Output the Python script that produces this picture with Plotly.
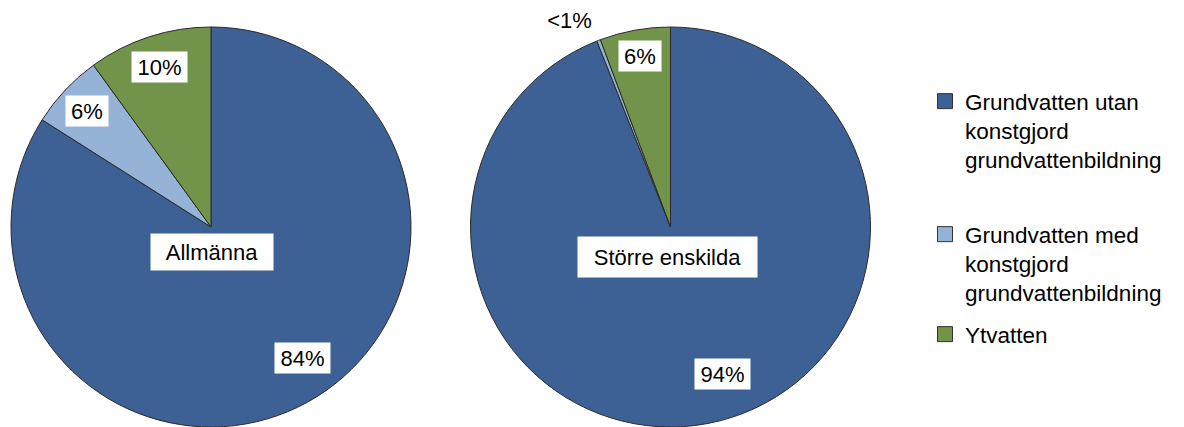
import plotly.graph_objects as go
import math

# ---- data ----
categories = [
    "Grundvatten utan<br>konstgjord<br>grundvattenbildning",
    "Grundvatten med<br>konstgjord<br>grundvattenbildning",
    "Ytvatten",
]
pie_titles = ["Allmänna", "Större enskilda"]
allmanna_values = [84.0, 6.0, 10.0]
storre_values = [94.0, 0.3, 5.7]
allmanna_labels = ["84%", "6%", "10%"]
storre_labels = ["94%", "<1%", "6%"]

# ---- style ----
colors = ["#3d6194", "#94b3d7", "#71944a"]
W, H = 1184, 427
R = 200
centers = [(211, 227), (670.5, 227)]
# label placement (radius fraction, angle shift in degrees) per slice
label_r = [[0.80, -6], [0.85, 0], [0.84, 0]], [[0.78, -8.6], [1.15, -5], [0.87, 0]]
label_bg = [["white", "white", "white"], ["white", "rgba(0,0,0,0)", "white"]]
title_box = [(110, 24, 25, 1), (167, 28, 30, -3)]  # width, height, dy, dx
legend_tops = [80, 213, 313]
legend_left = 925
FONT = "Liberation Sans, Arial, sans-serif"

fig = go.Figure()
series = [allmanna_values, storre_values]
texts = [allmanna_labels, storre_labels]

for i, vals in enumerate(series):
    cx, cy = centers[i]
    fig.add_trace(go.Pie(
        labels=categories,
        values=vals,
        sort=False,
        direction="clockwise",
        rotation=0,
        textinfo="none",
        hoverinfo="label+percent",
        marker=dict(colors=colors, line=dict(color="#2a2a2a", width=1)),
        domain=dict(x=[(cx - R) / W, (cx + R) / W], y=[0, 1 - (cy - R) / H]),
        showlegend=False,
    ))
    total = sum(vals)
    cum = 0.0
    for j, v in enumerate(vals):
        mid = (cum + v / 2) / total * 360.0
        cum += v
        rf, shift = label_r[i][j]
        ang = math.radians(mid + shift)
        px = cx + rf * R * math.sin(ang)
        py = cy - rf * R * math.cos(ang)
        t = texts[i][j]
        fig.add_annotation(
            x=px / W, y=1 - py / H, xref="paper", yref="paper",
            text=t, showarrow=False,
            font=dict(family=FONT, size=22, color="black"),
            bgcolor=label_bg[i][j], borderpad=3,
            width=13 * len(t) + 10, height=24,
            xanchor="center", yanchor="middle",
        )
    bw, bh, dy, dx = title_box[i]
    fig.add_annotation(
        x=(cx + dx) / W, y=1 - (cy + dy) / H, xref="paper", yref="paper",
        text=pie_titles[i], showarrow=False,
        font=dict(family=FONT, size=22, color="black"),
        bgcolor="white", borderpad=6, width=bw, height=bh,
        xanchor="center", yanchor="middle",
    )

# legend entries (one legend box per entry to mimic spacing)
legend_names = ["legend", "legend2", "legend3"]
for k, name in enumerate(categories):
    fig.add_trace(go.Scatter(
        x=[None], y=[None], mode="markers", name=name,
        marker=dict(symbol="square", size=15, color=colors[k],
                    line=dict(color="#333333", width=1)),
        legend=legend_names[k], showlegend=True, hoverinfo="skip",
    ))

leg_common = dict(
    xanchor="left", yanchor="top",
    font=dict(family=FONT, size=22.5, color="black"),
    bgcolor="rgba(0,0,0,0)", valign="top",
)
fig.update_layout(
    width=W, height=H,
    margin=dict(l=0, r=0, t=0, b=0),
    paper_bgcolor="white",
    plot_bgcolor="white",
    xaxis=dict(visible=False),
    yaxis=dict(visible=False),
    legend=dict(x=legend_left / W, y=1 - legend_tops[0] / H, **leg_common),
    legend2=dict(x=legend_left / W, y=1 - legend_tops[1] / H, **leg_common),
    legend3=dict(x=legend_left / W, y=1 - legend_tops[2] / H, **leg_common),
)

fig.write_html("out.html")
